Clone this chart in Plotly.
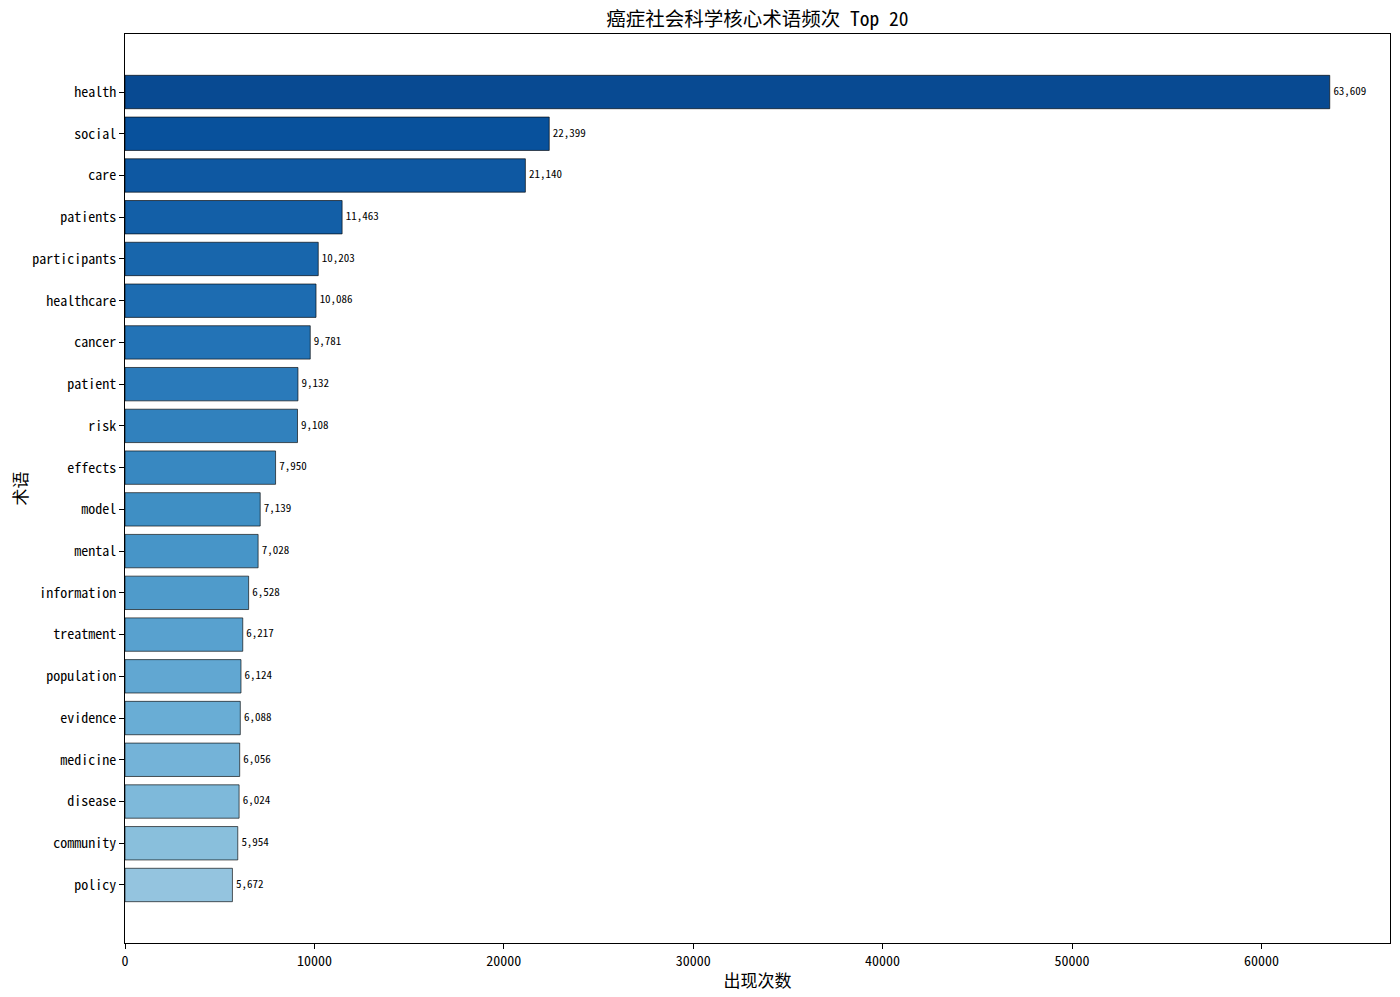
import numpy as np
import plotly.graph_objects as go

TERMS = ["health", "social", "care", "patients", "participants", "healthcare", "cancer",
         "patient", "risk", "effects", "model", "mental", "information", "treatment",
         "population", "evidence", "medicine", "disease", "community", "policy"]
COUNTS = [63609, 22399, 21140, 11463, 10203, 10086, 9781, 9132, 9108, 7950,
          7139, 7028, 6528, 6217, 6124, 6088, 6056, 6024, 5954, 5672]
TITLE = "癌症社会科学核心术语频次 Top 20"
X_TITLE = "出现次数"
Y_TITLE = "术语"

# matplotlib "Blues" anchors, sampled 0.9 -> 0.4 like the original
BLUES = ["#f7fbff", "#deebf7", "#c6dbef", "#9ecae1", "#6baed6", "#4292c6", "#2171b5", "#08519c", "#08306b"]
def blues(t):
    pos = t * (len(BLUES) - 1); i = min(int(pos), len(BLUES) - 2); f = pos - i
    a = np.array([int(BLUES[i][k:k+2], 16) for k in (1, 3, 5)])
    b = np.array([int(BLUES[i+1][k:k+2], 16) for k in (1, 3, 5)])
    c = a + (b - a) * f
    return "rgb(%d,%d,%d)" % tuple(np.round(c))
colors = [blues(t) for t in np.linspace(0.9, 0.4, len(TERMS))]

FONT = "Noto Sans Mono CJK SC, Noto Sans CJK SC, DejaVu Sans Mono"
xmax = max(COUNTS) * 1.05
n = len(TERMS)

bars = go.Bar(x=COUNTS, y=TERMS, orientation="h", width=0.8,
              marker=dict(color=colors, line=dict(color="rgba(0,0,0,0.8)", width=0.8)),
              hoverinfo="x+y", showlegend=False)
labels = go.Scatter(x=[v + max(COUNTS) * 0.003 for v in COUNTS], y=TERMS, mode="text",
                    text=[f"{v:,}" for v in COUNTS], textposition="middle right",
                    textfont=dict(size=11, color="black", family=FONT),
                    hoverinfo="skip", showlegend=False, cliponaxis=False)

fig = go.Figure([bars, labels])
fig.update_layout(
    width=1400, height=997, template="plotly_white",
    plot_bgcolor="white", paper_bgcolor="white",
    font=dict(family=FONT, color="black", size=14),
    title=dict(text=TITLE, x=0.5, xref="paper", xanchor="center", y=0.981, yanchor="middle",
               font=dict(size=19.5, family=FONT, color="black")),
    margin=dict(l=125, r=10, t=34, b=54),
)
fig.update_xaxes(range=[0, xmax], showgrid=False, zeroline=False, showline=True, mirror=True,
                 linecolor="black", linewidth=1, ticks="outside", ticklen=5, tickcolor="black",
                 dtick=10000, tickformat="d", tickfont=dict(size=14), automargin=False,
                 title=dict(text=X_TITLE, font=dict(size=17), standoff=6))
fig.update_yaxes(categoryorder="array", categoryarray=TERMS[::-1], range=[-1.39, n - 1 + 1.39],
                 showgrid=False, zeroline=False, showline=True, mirror=True,
                 linecolor="black", linewidth=1, ticks="outside", ticklen=5, tickcolor="black",
                 tickfont=dict(size=14), automargin=False,
                 title=dict(text=Y_TITLE, font=dict(size=17), standoff=0))
fig.write_html("out.html", config={"displayModeBar": False},
               post_script="document.body.style.margin='0';")
